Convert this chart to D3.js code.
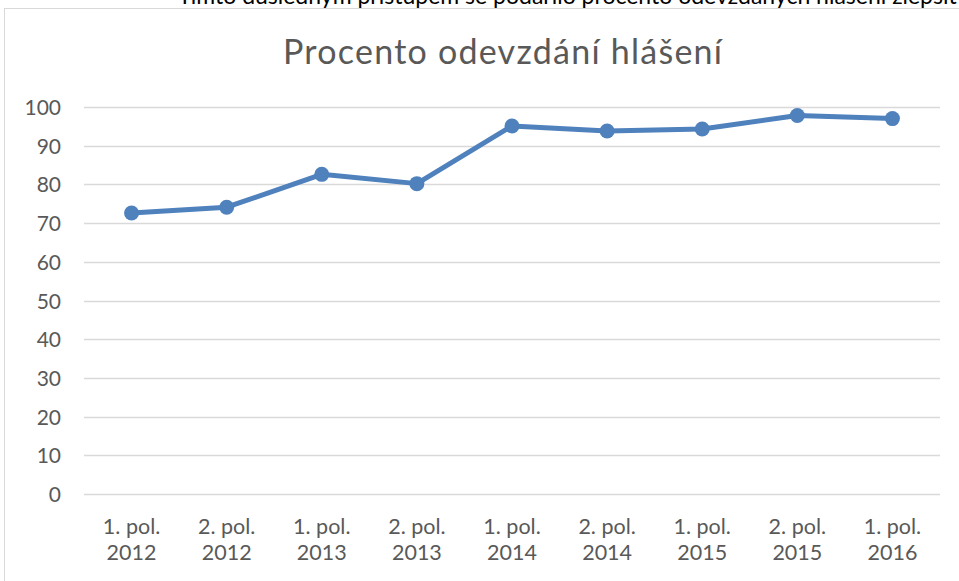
<!DOCTYPE html>
<html><head><meta charset="utf-8">
<script src="https://cdn.jsdelivr.net/npm/d3@7"></script>
<style>body{margin:0;background:#fff;overflow:hidden}svg{display:block}</style>
</head><body>
<script>
const categories = [["1. pol.","2012"],["2. pol.","2012"],["1. pol.","2013"],["2. pol.","2013"],["1. pol.","2014"],["2. pol.","2014"],["1. pol.","2015"],["2. pol.","2015"],["1. pol.","2016"]];
const values = [72.6, 74.1, 82.6, 80.2, 95.1, 93.8, 94.3, 97.8, 97.0];
const yTicks = [0,10,20,30,40,50,60,70,80,90,100];
const titleText = "Procento odevzdání hlášení";
const headText = "Tímto důsledným přístupem se podařilo procento odevzdaných hlášení zlepšit o";

const W = 959, H = 581;
const svg = d3.select("body").append("svg").attr("width", W).attr("height", H);
const font = "Lato, 'Open Sans', sans-serif";

svg.append("text").attr("x", 178).attr("y", 4).attr("font-family", font).attr("font-size", 23).attr("fill", "#000").text(headText);

svg.append("rect").attr("x", 4.5).attr("y", 8.5).attr("width", 980).attr("height", 600).attr("fill", "none").attr("stroke", "#d9d9d9").attr("stroke-width", 1);

const x = d3.scaleBand().domain(d3.range(categories.length)).range([84, 940]);
const y = d3.scaleLinear().domain([0, 100]).range([494, 107]);

const grid = svg.append("g");
grid.selectAll("line").data(yTicks).join("line")
  .attr("x1", 84).attr("x2", 940)
  .attr("y1", d => Math.round(y(d)) + 0.5).attr("y2", d => Math.round(y(d)) + 0.5)
  .attr("stroke", "#d9d9d9").attr("stroke-width", 1.3);

const yAxis = d3.axisLeft(y).tickValues(yTicks).tickSize(0).tickPadding(0);
const gy = svg.append("g").attr("transform", "translate(61,0)").call(yAxis);
gy.select(".domain").remove();
gy.selectAll("text").attr("font-family", font).attr("font-size", 21).attr("fill", "#595959").attr("dy", "0.36em");

const xAxis = d3.axisBottom(x).tickSize(0).tickFormat(() => "");
const gx = svg.append("g").attr("transform", "translate(0,494)").call(xAxis);
gx.select(".domain").remove();
gx.selectAll(".tick").each(function(d) {
  const t = d3.select(this).select("text").text(null).attr("font-family", font).attr("font-size", 21.5).attr("fill", "#595959").attr("y", 0).attr("dy", null).attr("text-anchor", "middle");
  t.append("tspan").attr("x", 0).attr("y", 40).text(categories[d][0]);
  t.append("tspan").attr("x", 0).attr("y", 66).text(categories[d][1]);
});

svg.append("text").attr("x", 283).attr("y", 64).attr("font-family", font).attr("font-size", 34)
  .attr("textLength", 439).attr("lengthAdjust", "spacing").attr("fill", "#595959").text(titleText);

const color = "#4f81bd";
const line = d3.line().x((d, i) => x(i) + x.bandwidth() / 2).y(d => y(d));
svg.append("path").datum(values).attr("d", line).attr("fill", "none").attr("stroke", color).attr("stroke-width", 5).attr("stroke-linejoin", "round").attr("stroke-linecap", "round");
svg.selectAll("circle.pt").data(values).join("circle").attr("class", "pt")
  .attr("cx", (d, i) => x(i) + x.bandwidth() / 2).attr("cy", d => y(d)).attr("r", 7.5).attr("fill", color);
</script>
</body></html>
